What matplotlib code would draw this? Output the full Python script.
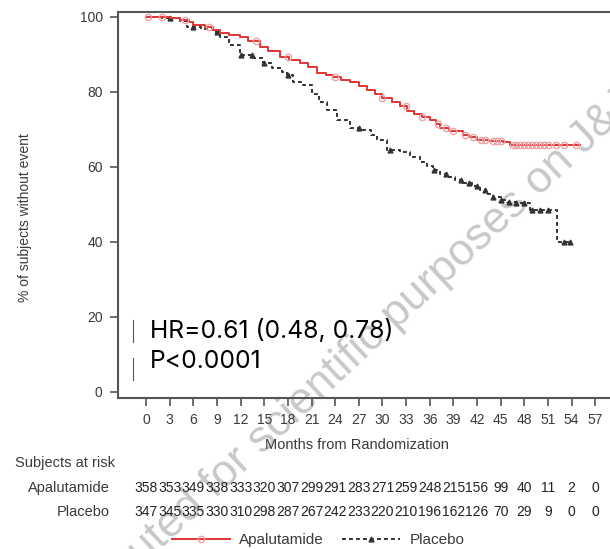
import numpy as np
import matplotlib.pyplot as plt
from matplotlib.lines import Line2D
import matplotlib.transforms as mtransforms

plt.rcdefaults()
plt.rcParams['font.family'] = ['Liberation Sans', 'DejaVu Sans']

# Kaplan-Meier steps (months, % without event)
apa_t = [0, 3, 4.3, 5.5, 6, 7.5, 8.5, 9.4, 10.5, 11.9, 13, 14.5, 15.5, 17, 18.2,
         19.5, 20.5, 21.7, 22.8, 23.7, 24.8, 25.9, 27, 28, 29, 30, 31.2, 32.2,
         33.1, 34, 35, 36, 36.8, 37.3, 38.5, 40.2, 41, 42, 43.5, 45.3, 46.2, 55]
apa_s = [100, 99.7, 99.2, 98.6, 97.9, 97.2, 96.4, 95.7, 95.2, 94.7, 93.6, 92.0,
         91.0, 89.3, 88.6, 87.7, 86.6, 85.1, 84.6, 84.0, 83.3, 82.7, 81.6, 80.5,
         79.5, 78.4, 77.4, 76.3, 75.0, 74.0, 73.2, 72.5, 71.4, 70.4, 69.6, 68.5,
         67.9, 67.2, 66.9, 66.7, 65.9, 65.9]
apa_cens = [0.3, 2, 5, 8, 14, 18, 24, 30, 33, 35, 37, 38, 39, 40.5, 41.5, 42.5,
            43, 44, 44.5, 45, 46.5, 47, 47.5, 48, 48.5, 49, 49.5, 50, 50.5, 51,
            52, 53, 54.5]

pla_t = [0, 2, 4.3, 5.2, 7, 8.5, 9.4, 10.5, 11.9, 13.6, 14.8, 16, 17.2, 17.9,
         18.7, 19.9, 21, 22, 23, 24.2, 25.9, 27.5, 28.5, 29.3, 30.6, 32.2, 33.5,
         34.8, 35.6, 36.4, 37.3, 38.2, 39.2, 40.2, 41.3, 42.4, 43.2, 44, 45,
         45.8, 47, 48.7, 52.2, 54]
pla_s = [100, 99.6, 98.8, 97.4, 96.8, 96.0, 94.7, 92.5, 89.9, 89.0, 87.7, 86.5,
         85.2, 84.5, 82.7, 81.9, 79.5, 77.3, 75.2, 72.5, 70.4, 69.9, 68.5, 67.2,
         64.5, 64.0, 62.7, 61.3, 60.2, 59.2, 58.2, 57.3, 56.5, 55.7, 54.8, 53.9,
         52.9, 52.0, 51.3, 50.7, 50.4, 48.5, 40.0, 40.0]
pla_cens = [3, 6, 9, 12, 13.5, 15, 18, 27, 31, 36.5, 38, 40, 41, 42, 43, 44, 45,
            46, 47, 48, 49, 50, 51, 53, 53.8]

months = np.arange(0, 58, 3)
apa_risk = [358, 353, 349, 338, 333, 320, 307, 299, 291, 283, 271, 259, 248,
            215, 156, 99, 40, 11, 2, 0]
pla_risk = [347, 345, 335, 330, 310, 298, 287, 267, 242, 233, 220, 210, 196,
            162, 126, 70, 29, 9, 0, 0]


def km_at(t, times, surv):
    idx = np.searchsorted(times, t, side='right') - 1
    return np.asarray(surv)[idx]


W, H = 610, 549
fig = plt.figure(figsize=(W / 100, H / 100), dpi=100)

# watermark behind everything
fig.text(337 / W, 1 - 370 / H, 'Distributed for scientific purposes on J&J',
         rotation=43, rotation_mode='anchor', ha='center', va='center',
         fontsize=32, color='#c8c8c8', zorder=-1)

ax = fig.add_axes([118 / W, 1 - 398 / H, 0.9, 386 / H])
ax.set_facecolor('none')

red = '#df3435'
ax.step(apa_t, apa_s, where='post', color=red, lw=1.4, zorder=3)
ax.plot(apa_cens, km_at(apa_cens, apa_t, apa_s), 'o', mfc='none', mec='#f0a0a0',
        ms=4.5, mew=1, zorder=3)
ax.step(pla_t, pla_s, where='post', color='#333333', lw=1.4, ls=(0, (2, 1.6)),
        zorder=2)
ax.plot(pla_cens, km_at(pla_cens, pla_t, pla_s), '^', color='#333333', ms=3.5,
        zorder=2)

ax.set_xlim(-3.55, 66.1)
ax.set_ylim(-1.6, 101.3)
ax.set_xticks(months)
ax.set_yticks(range(0, 101, 20))
for s in ['left', 'bottom', 'top']:
    ax.spines[s].set_color('#555555')
    ax.spines[s].set_linewidth(1.5)
ax.spines['right'].set_visible(False)
ax.tick_params(length=6, width=1.2, color='#555555', labelsize=10,
               labelcolor='#3a3a3a', pad=5)

fig.text(25 / W, 1 - 218 / H, '% of subjects without event', rotation=90,
         ha='center', va='center', fontsize=10, color='#3a3a3a')
fig.text(357 / W, 1 - 445 / H, 'Months from Randomization', ha='center',
         va='center', fontsize=10.5, color='#3a3a3a')

# HR annotation
hr_font = ['Inter', 'DejaVu Sans']
fig.text(150 / W, 1 - 331 / H, 'HR=0.61 (0.48, 0.78)', va='center',
         fontsize=17.8, family=hr_font, color='black')
fig.text(150 / W, 1 - 362 / H, 'P<0.0001', va='center', fontsize=17.8,
         family=hr_font, color='black')
for y0, y1 in [(320, 342), (358, 380)]:
    fig.add_artist(Line2D([133 / W] * 2, [1 - y0 / H, 1 - y1 / H],
                          color='#555555', lw=0.8))

# subjects at risk table
trans = mtransforms.blended_transform_factory(ax.transData, fig.transFigure)
fig.text(15 / W, 1 - 463 / H, 'Subjects at risk', va='center', fontsize=10.5,
         color='#3a3a3a')
for name, risk, y in [('Apalutamide', apa_risk, 488), ('Placebo', pla_risk, 512)]:
    fig.text(110 / W, 1 - y / H, name, ha='right', va='center', fontsize=10.5,
             color='#3a3a3a')
    for m, n in zip(months, risk):
        ax.text(m, 1 - y / H, str(n), transform=trans, ha='center', va='center',
                fontsize=10, color='#222222', clip_on=False)

handles = [Line2D([], [], color=red, lw=1.4, marker='o', mfc='none',
                  mec='#f0a0a0', ms=4.5),
           Line2D([], [], color='#333333', lw=1.4, ls=(0, (2, 1.6)), marker='^',
                  ms=3.5)]
fig.legend(handles, ['Apalutamide', 'Placebo'], loc='center',
           bbox_to_anchor=(318 / W, 1 - 540 / H), ncol=2, frameon=False,
           fontsize=11, handlelength=3.8, columnspacing=1.2, handletextpad=0.6,
           labelcolor='#3a3a3a')

fig.savefig('out.png', dpi=100)
